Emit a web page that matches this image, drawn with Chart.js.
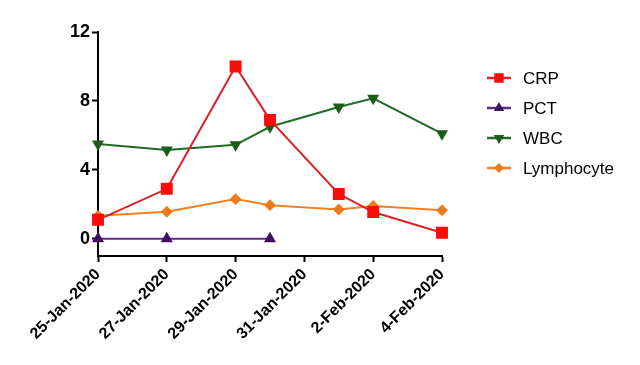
<!DOCTYPE html>
<html>
<head>
<meta charset="utf-8">
<script src="https://cdn.jsdelivr.net/npm/chart.js@4/dist/chart.umd.min.js"></script>
<style>
    html, body { margin: 0; padding: 0; background: #fff; }
    #wrap { width: 640px; height: 365px; }
</style>
</head>
<body>
<div id="wrap"><canvas id="labChart" width="640" height="365"></canvas></div>
<script>
// sampling dates
const dates = ['25-Jan-2020', '27-Jan-2020', '29-Jan-2020', '30-Jan-2020', '1-Feb-2020', '2-Feb-2020', '4-Feb-2020'];

// series values (null = not measured)
const crp = [1.1, 2.9, 10.0, 6.9, 2.6, 1.55, 0.35];
const pct = [0, 0, null, 0, null, null, null];
const wbc = [5.5, 5.15, 5.45, 6.5, 7.65, 8.15, 6.1];
const lymphocyte = [1.33, 1.57, 2.3, 1.95, 1.7, 1.9, 1.65];

// tick labels
const xTickLabels = ['25-Jan-2020', '27-Jan-2020', '29-Jan-2020', '31-Jan-2020', '2-Feb-2020', '4-Feb-2020'];
const yTicks = [0, 4, 8, 12];

// day offset from 25-Jan
function dayOf(d) {
    const parts = d.split('-');
    const day = parseInt(parts[0], 10);
    return parts[1] === 'Jan' ? day - 25 : day + 31 - 25;
}

function toPoints(values) {
    return dates.map((d, i) => ({ x: dayOf(d), y: values[i] })).filter(p => p.y !== null);
}

const series = [
    { label: 'CRP', data: crp, line: '#d92128', fill: '#ff0a0a', style: 'rect', radius: 7, rotation: 0 },
    { label: 'PCT', data: pct, line: '#5b2a86', fill: '#3e1065', style: 'triangle', radius: 5, rotation: 0 },
    { label: 'WBC', data: wbc, line: '#1f6b22', fill: '#1a5e1a', style: 'triangle', radius: 5, rotation: 180 },
    { label: 'Lymphocyte', data: lymphocyte, line: '#f08124', fill: '#f07a1a', style: 'rectRot', radius: 4.5, rotation: 0 }
];

// legend drawn by hand: short line with marker, then text
const sideLegend = {
    id: 'sideLegend',
    afterDraw(chart) {
        const ctx = chart.ctx;
        ctx.save();
        series.forEach((s, i) => {
            const y = 78 + i * 30;
            ctx.strokeStyle = s.line;
            ctx.lineWidth = 2.5;
            ctx.beginPath();
            ctx.moveTo(487, y);
            ctx.lineTo(511, y);
            ctx.stroke();
            ctx.fillStyle = s.fill;
            ctx.strokeStyle = s.fill;
            Chart.helpers.drawPoint(ctx, {
                pointStyle: s.style,
                rotation: s.rotation,
                radius: s.radius * 0.7,
                borderWidth: 1
            }, 499, y);
            ctx.fillStyle = '#000';
            ctx.font = '17px "Liberation Sans", Arial, sans-serif';
            ctx.textBaseline = 'middle';
            ctx.textAlign = 'left';
            ctx.fillText(s.label, 523, y + 1);
        });
        ctx.restore();
    }
};

Chart.defaults.font.family = '"Liberation Sans", Arial, sans-serif';
Chart.defaults.color = '#000';

const ctx = document.getElementById('labChart').getContext('2d');
new Chart(ctx, {
    type: 'line',
    data: {
        datasets: series.map(s => ({
            label: s.label,
            data: toPoints(s.data),
            borderColor: s.line,
            backgroundColor: s.fill,
            pointBorderColor: s.fill,
            pointBackgroundColor: s.fill,
            pointStyle: s.style,
            pointRadius: s.radius,
            pointRotation: s.rotation,
            borderWidth: 2,
            tension: 0,
            clip: false
        }))
    },
    options: {
        responsive: false,
        animation: false,
        layout: {
            padding: { top: 32, right: 198, left: 0, bottom: 0 }
        },
        plugins: {
            legend: { display: false },
            tooltip: { enabled: false }
        },
        scales: {
            x: {
                type: 'linear',
                min: 0,
                max: 10,
                afterFit: scale => { scale.height = 109; },
                afterBuildTicks: scale => {
                    scale.ticks = xTickLabels.map((_, i) => ({ value: i * 2 }));
                },
                border: { color: '#000', width: 2 },
                grid: {
                    drawOnChartArea: false,
                    drawTicks: true,
                    tickLength: 6,
                    tickColor: '#000',
                    tickWidth: 2
                },
                ticks: {
                    minRotation: 45,
                    maxRotation: 45,
                    padding: 3,
                    font: { size: 16, weight: 'bold' },
                    callback: value => xTickLabels[Math.round(value / 2)]
                }
            },
            y: {
                min: -1,
                max: 12,
                afterFit: scale => { scale.width = 98; },
                afterBuildTicks: scale => {
                    scale.ticks = yTicks.map(v => ({ value: v }));
                },
                border: { color: '#000', width: 2 },
                grid: {
                    drawOnChartArea: false,
                    drawTicks: true,
                    tickLength: 6,
                    tickColor: '#000',
                    tickWidth: 2
                },
                ticks: {
                    padding: 2,
                    font: { size: 18, weight: 'bold' }
                }
            }
        }
    },
    plugins: [sideLegend]
});
</script>
</body>
</html>
